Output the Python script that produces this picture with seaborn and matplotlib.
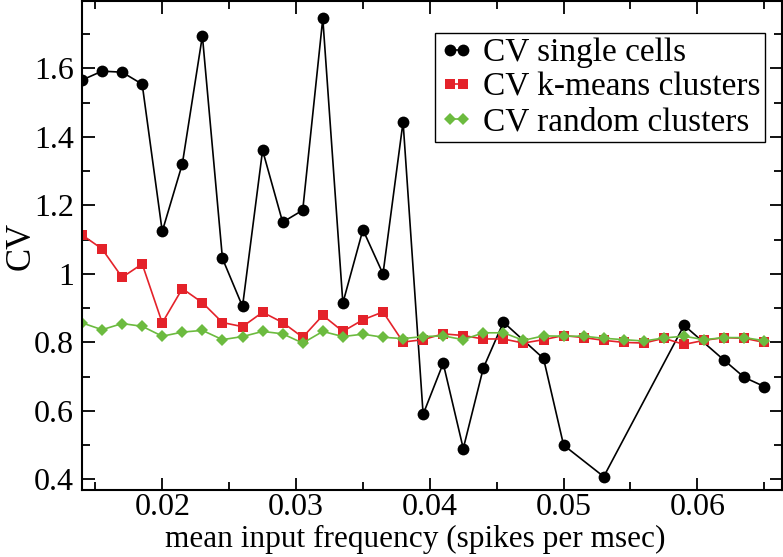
import numpy as np
import pandas as pd
import seaborn as sns
import matplotlib.pyplot as plt
from matplotlib.ticker import MultipleLocator

# data
freq = [0.014, 0.0155, 0.017, 0.0185, 0.020, 0.0215, 0.023, 0.0245, 0.026,
        0.0275, 0.029, 0.0305, 0.032, 0.0335, 0.035, 0.0365, 0.038, 0.0395,
        0.041, 0.0425, 0.044, 0.0455, 0.047, 0.0485, 0.050, 0.0515, 0.053,
        0.0545, 0.056, 0.0575, 0.059, 0.0605, 0.062, 0.0635, 0.065]

freq_cells = [0.014, 0.0155, 0.017, 0.0185, 0.020, 0.0215, 0.023, 0.0245,
              0.026, 0.0275, 0.029, 0.0305, 0.032, 0.0335, 0.035, 0.0365,
              0.038, 0.0395, 0.041, 0.0425, 0.044, 0.0455, 0.0485, 0.050,
              0.053, 0.059, 0.062, 0.0635, 0.065]
cv_cells = [1.566, 1.592, 1.589, 1.554, 1.124, 1.321, 1.695, 1.045, 0.905,
            1.361, 1.151, 1.186, 1.746, 0.915, 1.129, 1.000, 1.444, 0.590,
            0.739, 0.490, 0.725, 0.859, 0.753, 0.500, 0.408, 0.850, 0.748,
            0.698, 0.671]

cv_kmeans = [1.114, 1.073, 0.990, 1.029, 0.857, 0.957, 0.916, 0.858, 0.846,
             0.888, 0.858, 0.815, 0.879, 0.832, 0.866, 0.889, 0.801, 0.808,
             0.825, 0.820, 0.810, 0.810, 0.798, 0.808, 0.820, 0.814, 0.806,
             0.800, 0.798, 0.812, 0.794, 0.806, 0.814, 0.812, 0.800]

cv_random = [0.857, 0.837, 0.855, 0.847, 0.818, 0.830, 0.835, 0.808, 0.817,
             0.832, 0.825, 0.798, 0.832, 0.817, 0.824, 0.815, 0.811, 0.817,
             0.819, 0.808, 0.828, 0.828, 0.806, 0.819, 0.818, 0.818, 0.812,
             0.808, 0.804, 0.813, 0.818, 0.808, 0.814, 0.814, 0.805]

red = "#e4222a"
green = "#6cbb3f"

sns.set_theme(style="ticks")
plt.rcParams["font.family"] = ["Liberation Serif", "DejaVu Serif"]
plt.rcParams["text.color"] = "black"
plt.rcParams["axes.labelcolor"] = "black"

fig = plt.figure(figsize=(7.83, 5.57), dpi=100)
ax = fig.add_axes([0.1047, 0.1203, 0.8936, 0.878])

sns.lineplot(x=freq_cells, y=cv_cells, ax=ax, color="black", marker="o",
             markersize=8.5, markeredgewidth=0, linewidth=1.2,
             label="CV single cells")
sns.lineplot(x=freq, y=cv_kmeans, ax=ax, color=red, marker="s",
             markersize=7, markeredgewidth=0, linewidth=1.2,
             label="CV k-means clusters")
sns.lineplot(x=freq, y=cv_random, ax=ax, color=green, marker="D",
             markersize=6, markeredgewidth=0, linewidth=1.2,
             label="CV random clusters")

ax.set_xlim(0.0140, 0.0663)
ax.set_ylim(0.369, 1.797)
ax.xaxis.set_minor_locator(MultipleLocator(0.005))
ax.yaxis.set_minor_locator(MultipleLocator(0.1))
ax.set_xticks([0.02, 0.03, 0.04, 0.05, 0.06])
ax.set_xticklabels(["0.02", "0.03", "0.04", "0.05", "0.06"])
ax.set_yticks([0.4, 0.6, 0.8, 1.0, 1.2, 1.4, 1.6])
ax.set_yticklabels(["0.4", "0.6", "0.8", "1", "1.2", "1.4", "1.6"])

ax.tick_params(which="both", direction="in", top=True, right=True,
               width=1.3, colors="black", labelsize=23)
ax.tick_params(axis="x", pad=2)
ax.tick_params(axis="y", pad=6)
ax.tick_params(which="major", length=9)
ax.tick_params(which="minor", length=6)
for s in ax.spines.values():
    s.set_linewidth(1.5)
    s.set_color("black")

ax.set_xlabel("mean input frequency (spikes per msec)", fontsize=22.5,
              va="top")
ax.xaxis.set_label_coords(0.476, -0.071)
ax.set_ylabel("CV", fontsize=25)
ax.yaxis.set_label_coords(-0.064, 0.5)

leg = ax.legend(loc="upper right", bbox_to_anchor=(0.9768, 0.935), numpoints=2,
                fontsize=24, handlelength=1.0, handletextpad=0.3,
                labelspacing=0.12, borderpad=0.15, borderaxespad=0,
                fancybox=False, framealpha=1)
leg.get_frame().set_edgecolor("black")
leg.get_frame().set_linewidth(1.0)

plt.savefig("out.png", dpi=100)
